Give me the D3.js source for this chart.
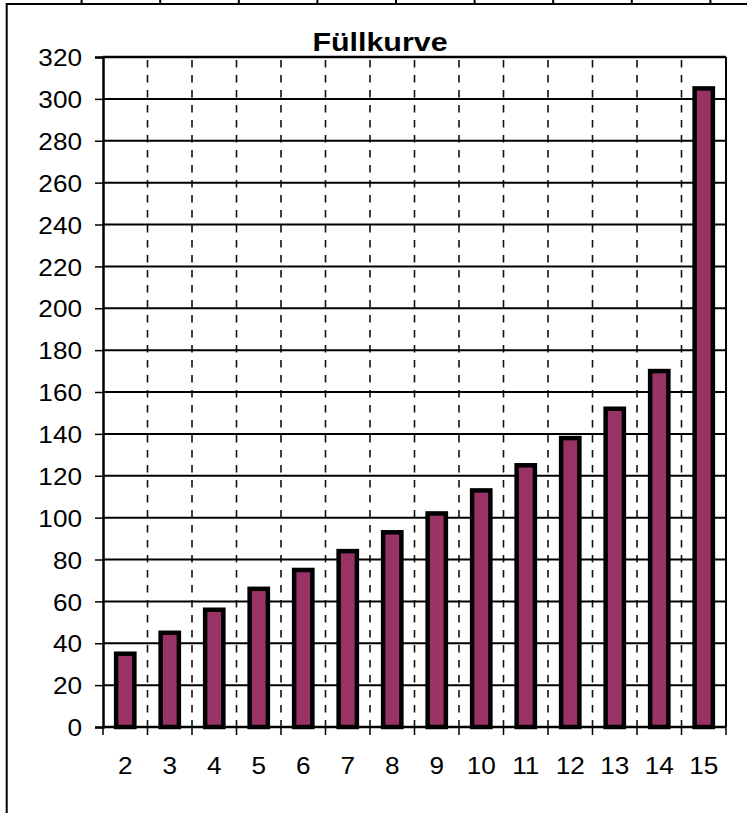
<!DOCTYPE html>
<html>
<head>
<meta charset="utf-8">
<script src="https://cdn.jsdelivr.net/npm/d3@7"></script>
<style>
  html, body { margin: 0; padding: 0; background: #fff; }
  svg { display: block; }
  text { font-family: "Liberation Sans", Arial, sans-serif; fill: #000; }
</style>
</head>
<body>
<script>
const title = "Füllkurve";
const categories = ["2","3","4","5","6","7","8","9","10","11","12","13","14","15"];
const values = [35, 45, 56, 66, 75, 84, 93, 102, 113, 125, 138, 152, 170, 305];
const yTicks = [0,20,40,60,80,100,120,140,160,180,200,220,240,260,280,300,320];
const topStripTicks = [1,2,3,4,5,6,7,8,9];

const W = 747, H = 813;
const m = { left: 103, right: 21, top: 57, bottom: 86 };
const pw = W - m.left - m.right, ph = H - m.top - m.bottom;

const svg = d3.select("body").append("svg").attr("width", W).attr("height", H);

// outer frame (top line with upward ticks, left border)
const topScale = d3.scaleLinear().domain([0, 1]).range([3, 81.6]);
svg.append("line").attr("x1", 6.5).attr("x2", W).attr("y1", 4).attr("y2", 4)
  .attr("stroke", "#000").attr("stroke-width", 2);
svg.append("line").attr("x1", 6.7).attr("x2", 6.7).attr("y1", 3).attr("y2", H)
  .attr("stroke", "#000").attr("stroke-width", 2);
svg.append("g").selectAll("line").data(topStripTicks).join("line")
  .attr("x1", d => topScale(d)).attr("x2", d => topScale(d))
  .attr("y1", 0).attr("y2", 4).attr("stroke", "#000").attr("stroke-width", 2);

const g = svg.append("g").attr("transform", `translate(${m.left},${m.top})`);

const x = d3.scaleBand().domain(categories).range([0, pw]).paddingInner(0).paddingOuter(0);
const y = d3.scaleLinear().domain([0, 320]).range([ph, 0]);

// vertical dashed gridlines at category boundaries
const bounds = categories.slice(1).map(c => x(c));
g.append("g").selectAll("line").data(bounds).join("line")
  .attr("x1", d => d).attr("x2", d => d).attr("y1", 0).attr("y2", ph)
  .attr("stroke", "#111").attr("stroke-width", 1.6)
  .attr("stroke-dasharray", "7.5,7.5").attr("stroke-dashoffset", 12);

// horizontal gridlines
g.append("g").selectAll("line").data(yTicks.filter(t => t > 0 && t < 320)).join("line")
  .attr("x1", 0).attr("x2", pw).attr("y1", d => y(d)).attr("y2", d => y(d))
  .attr("stroke", "#000").attr("stroke-width", 2);

// plot border top & right
g.append("line").attr("x1", 0).attr("x2", pw).attr("y1", y(320)).attr("y2", y(320))
  .attr("stroke", "#000").attr("stroke-width", 2.5);
g.append("line").attr("x1", pw).attr("x2", pw).attr("y1", 0).attr("y2", ph)
  .attr("stroke", "#000").attr("stroke-width", 2);

// y axis
const yAxis = d3.axisLeft(y).tickValues(yTicks).tickSize(8).tickPadding(13);
const ya = g.append("g").call(yAxis);
ya.select(".domain").attr("stroke", "#000").attr("stroke-width", 2.5);
ya.selectAll(".tick line").attr("stroke", "#000").attr("stroke-width", 1.5);
ya.selectAll(".tick text")
  .attr("font-size", 24).attr("font-family", "Liberation Sans, Arial, sans-serif")
  .attr("dy", "0.36em")
  .attr("transform", function() { const xx = +d3.select(this).attr("x"); return `translate(${xx},0) scale(1.09,1) translate(${-xx},0)`; });

// x axis: ticks at boundaries
const allBounds = categories.map(c => x(c)).concat([pw]);
g.append("line").attr("x1", 0).attr("x2", pw).attr("y1", ph).attr("y2", ph)
  .attr("stroke", "#000").attr("stroke-width", 2.5);
g.append("g").selectAll("line").data(allBounds).join("line")
  .attr("x1", d => d).attr("x2", d => d).attr("y1", ph).attr("y2", ph + 8)
  .attr("stroke", "#000").attr("stroke-width", 1.5);
g.append("g").selectAll("text").data(categories).join("text")
  .attr("text-anchor", "middle").attr("font-size", 24)
  .attr("transform", d => `translate(${x(d) + x.bandwidth() / 2},${ph + 47}) scale(1.09,1)`)
  .text(d => d);

// bars
const bw = x.bandwidth() * 0.41;
g.append("g").selectAll("rect").data(values).join("rect")
  .attr("x", (d, i) => x(categories[i]) + x.bandwidth() / 2 - bw / 2)
  .attr("width", bw)
  .attr("y", d => y(d))
  .attr("height", d => y(0) - y(d))
  .attr("fill", "#993366").attr("stroke", "#000").attr("stroke-width", 4.5);

// title
svg.append("text").attr("text-anchor", "middle").attr("font-size", 26).attr("font-weight", "bold")
  .attr("transform", `translate(380,51) scale(1.17,1)`).text(title);
</script>
</body>
</html>
